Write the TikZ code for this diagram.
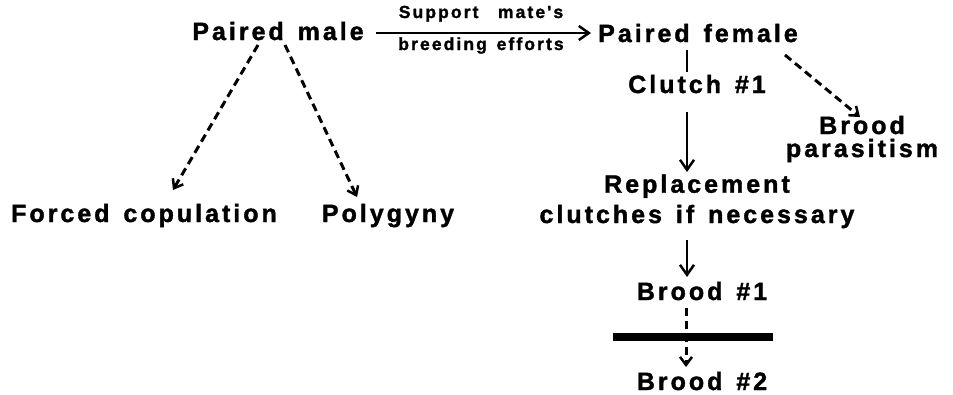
\documentclass[tikz,border=0pt]{standalone}
\usepackage{fontspec}
\newfontfamily\lbl{Liberation Sans}[LetterSpace=12, WordSpace=1.4, BoldFeatures={FakeBold=1.5}]
\usetikzlibrary{arrows.meta}
\begin{document}
\begin{tikzpicture}[x=1pt,y=-1pt,
  big/.style={font=\lbl\bfseries\fontsize{25}{19}\selectfont, inner sep=0pt, anchor=base, align=center},
  small/.style={font=\lbl\bfseries\fontsize{17.5}{18}\selectfont, inner sep=0pt, anchor=base},
  conn/.style={line width=2.8pt, -{Straight Barb[length=10pt,width=14pt,line width=2.5pt]}},
  plain/.style={line width=2.8pt},
  dsh/.style={line width=3pt, dash pattern=on 8pt off 5pt, -{Straight Barb[length=8pt,width=12pt,line width=2.5pt]}}]
\useasboundingbox (0,0) rectangle (953,394);
\node[big] (pm) at (278,40) {Paired male};
\node[big] (pf) at (698,42) {Paired female};
\node[small] (sup) at (481,18) {Support\ \ mate's};
\node[small] (bre) at (481,50) {breeding efforts};
\node[big] (cl) at (697,93) {Clutch \#1};
\node[big, font=\lbl\bfseries\fontsize{25}{23}\selectfont] (bp) at (862,157) {Brood\\parasitism};
\node[big] (rep) at (697,223) {Replacement\\[6pt]clutches if necessary};
\node[big] (b1) at (702,300) {Brood \#1};
\node[big] (b2) at (702,390) {Brood \#2};
\node[big] (fc) at (144,222) {Forced copulation};
\node[big] (pg) at (388,222) {Polygyny};
\node[fill=black, inner sep=0pt, minimum width=160pt, minimum height=8pt] (bar) at (693,337) {};
\draw[conn] ([shift={(12,-7)}]pm.base east) -- ([shift={(-7,-9)}]pf.base west);
\draw[plain] ([shift={(-11,8)}]pf.base) -- ([shift={(-10,-21)}]cl.base);
\draw[conn] ([shift={(-10,19)}]cl.base) -- ([shift={(-10,-51)}]rep.base);
\draw[dsh] ([shift={(87,13)}]pf.base) -- ([shift={(-2,-40)}]bp.base);
\draw[conn] ([shift={(-10,17)}]rep.base) -- ([shift={(-15,-23)}]b1.base);
\draw[dsh] ([shift={(-16,8)}]b1.base) -- ([shift={(-16,-23)}]b2.base);
\draw[dsh] ([shift={(-20,5)}]pm.base) -- ([shift={(29,-32)}]fc.base);
\draw[dsh] ([shift={(7,5)}]pm.base) -- ([shift={(-31,-25)}]pg.base);
\end{tikzpicture}
\end{document}
